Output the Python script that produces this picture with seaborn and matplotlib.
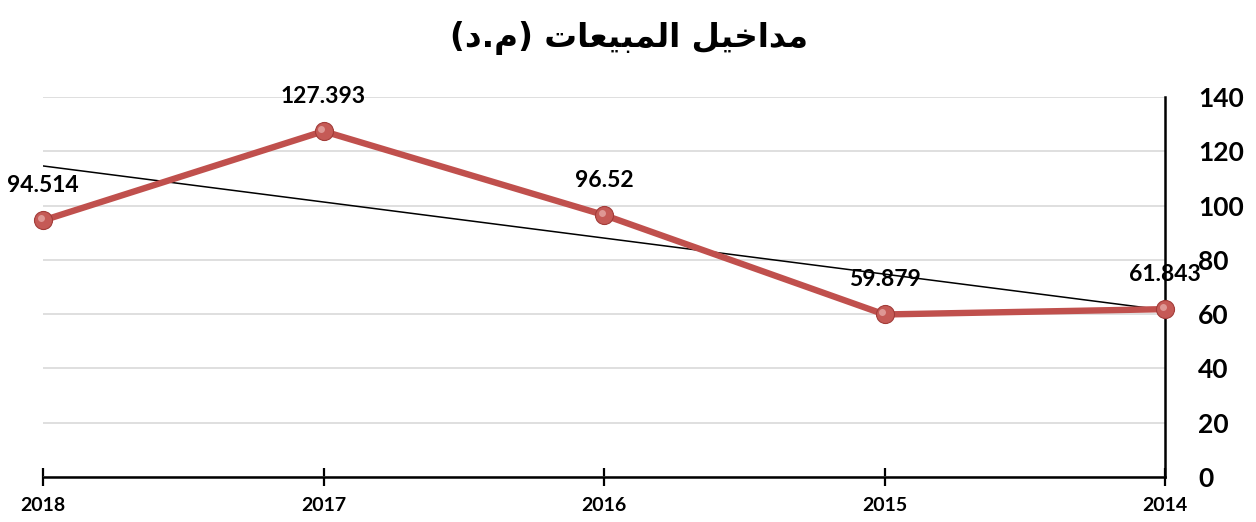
import matplotlib
matplotlib.use("Agg")
import matplotlib.pyplot as plt
import matplotlib.transforms as mtransforms
import seaborn as sns
import pandas as pd

years = [2018, 2017, 2016, 2015, 2014]
values = [94.514, 127.393, 96.52, 59.879, 61.843]
value_labels = ["94.514", "127.393", "96.52", "59.879", "61.843"]
y_ticks = [0, 20, 40, 60, 80, 100, 120, 140]

# Title: "مداخيل المبيعات (م.د)" written in presentation forms, visual order
title_text = ("(\uFEA9.\uFEE1) "
              "\uFE95\uFE8E\uFECC\uFEF4\uFE92\uFEE4\uFEDF\uFE8D "
              "\uFEDE\uFEF4\uFEA7\uFE8D\uFEAA\uFEE3")

sns.set_theme(style="white")
plt.rcParams['font.family'] = ['Lato', 'DejaVu Sans']
plt.rcParams['text.color'] = 'black'

df = pd.DataFrame({"year": years, "value": values})

fig = plt.figure(figsize=(12.56, 5.22), dpi=100)
ax = fig.add_axes([43/1256, 45/522, (1165-43)/1256, (477-97)/522])

red = "#C0504D"
sns.regplot(data=df, x="year", y="value", ax=ax, ci=None, scatter=False,
            line_kws=dict(color="black", lw=1.1, zorder=3))
sns.lineplot(data=df, x="year", y="value", ax=ax, color=red, lw=4.6,
             marker="o", markersize=13, markerfacecolor="#C55A56",
             markeredgecolor="#A23C39", markeredgewidth=0.8, zorder=4,
             clip_on=False)
# soft highlight on spheres
hl = mtransforms.offset_copy(ax.transData, fig=fig, x=-1.5, y=1.8, units="points")
ax.plot(df["year"], df["value"], ls="none", marker="o", markersize=5,
        markerfacecolor="#E3A3A0", markeredgewidth=0, alpha=0.85, zorder=5,
        clip_on=False, transform=hl)

for x, v, t in zip(years, values, value_labels):
    ax.annotate(t, (x, v), xytext=(0, 25), textcoords="offset points",
                ha="center", va="center", fontsize=16.5, fontweight="bold",
                color="black", zorder=6)

ax.set_xlim(2018, 2014)
ax.set_ylim(0, 140)
ax.set_xticks(years)
ax.set_xticklabels([str(y) for y in years], fontsize=14, fontweight="bold")
ax.set_yticks(y_ticks)
ax.set_yticklabels([str(t) for t in y_ticks], fontsize=19, fontweight="bold")
ax.yaxis.tick_right()
ax.tick_params(axis="y", left=False, right=False, length=0, pad=24,
               labelcolor="black")
ax.tick_params(axis="x", bottom=True, direction="inout", length=13, width=1.6,
               color="black", pad=8, labelcolor="black")
ax.set_xlabel("")
ax.set_ylabel("")
ax.grid(axis="y", color="#D9D9D9", lw=1.2)
ax.grid(axis="x", visible=False)
for s in ["top", "left"]:
    ax.spines[s].set_visible(False)
ax.spines["bottom"].set_color("black")
ax.spines["bottom"].set_linewidth(1.8)
ax.spines["right"].set_color("black")
ax.spines["right"].set_linewidth(1.8)

fig.text(629/1256, 1 - 38/522, title_text, ha="center", va="center",
         fontsize=23.5, fontweight="bold", color="black", family=["DejaVu Sans"])

fig.savefig("out.png", dpi=100)
